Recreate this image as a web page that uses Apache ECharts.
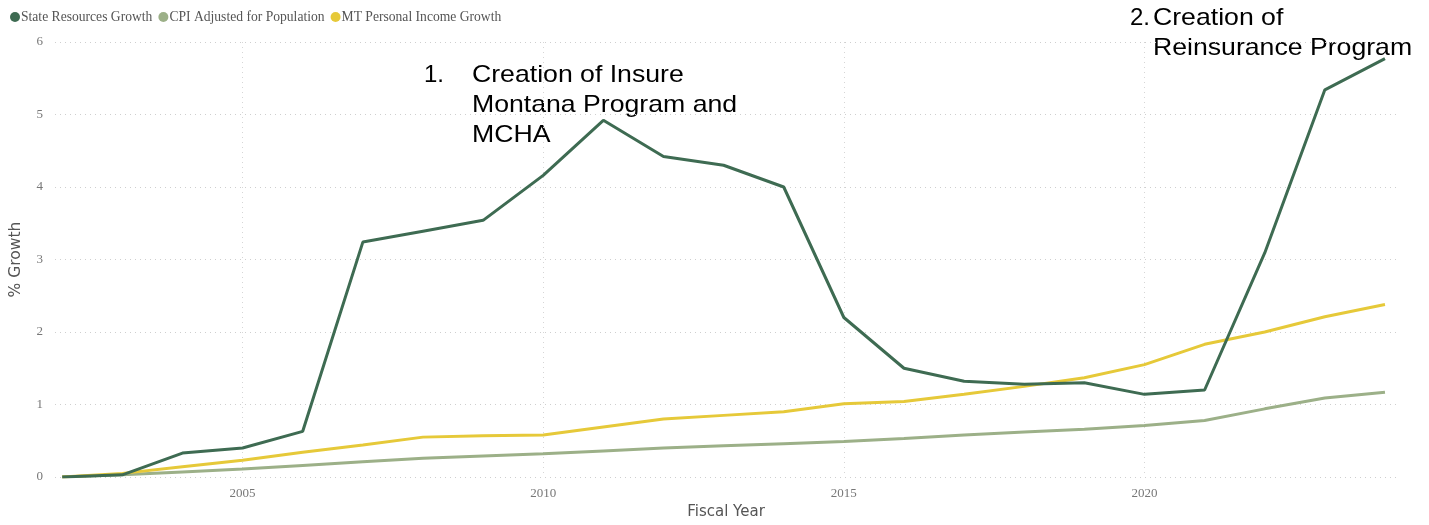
<html>
<head>
    <meta http-equiv="Content-Type" content="text/html; charset=utf-8" />
    <title>State Resources Growth</title>
    <script src="https://cdn.jsdelivr.net/npm/echarts@6/dist/echarts.min.js"></script>
    <style>html,body{margin:0;padding:0;background:#fff;}</style>
</head>
<body>
    <div id="main" style="width:1429px;height:525px"></div>

    <script type="text/javascript">
        var years = [2002, 2003, 2004, 2005, 2006, 2007, 2008, 2009, 2010, 2011, 2012,
                     2013, 2014, 2015, 2016, 2017, 2018, 2019, 2020, 2021, 2022, 2023, 2024];
        var stateResources = [0, 0.03, 0.33, 0.40, 0.63, 3.24, 3.39, 3.54, 4.16, 4.92, 4.42,
                              4.30, 4.00, 2.20, 1.50, 1.32, 1.28, 1.30, 1.14, 1.20, 3.09, 5.34, 5.77];
        var cpiAdjusted = [0, 0.03, 0.07, 0.11, 0.16, 0.21, 0.26, 0.29, 0.32, 0.36, 0.40,
                           0.43, 0.46, 0.49, 0.53, 0.58, 0.62, 0.66, 0.71, 0.78, 0.94, 1.09, 1.17];
        var personalIncome = [0, 0.05, 0.14, 0.23, 0.34, 0.44, 0.55, 0.57, 0.58, 0.69, 0.80,
                              0.85, 0.90, 1.01, 1.04, 1.14, 1.25, 1.37, 1.55, 1.83, 2.00, 2.21, 2.38];
        var yearTicks = [2005, 2010, 2015, 2020];

        function pairs(vals) {
            return years.map(function (y, i) {
                return [y, vals[i]];
            });
        }

        var serif = 'Liberation Serif';
        var noteFont = '24px Liberation Sans';

        var option = {
            backgroundColor: '#fff',
            animation: false,
            color: ['#3e6b52', '#9cb088', '#e6c939'],
            legend: {
                left: 5,
                top: 5,
                icon: 'circle',
                itemWidth: 10,
                itemHeight: 10,
                itemGap: 6,
                textStyle: { fontFamily: serif, fontSize: 13.6, color: '#555', padding: [0, 0, 0, -4] },
                data: ['State Resources Growth', 'CPI Adjusted for Population', 'MT Personal Income Growth']
            },
            grid: {
                left: 55,
                right: 32,
                top: 42,
                bottom: 45
            },
            xAxis: {
                type: 'value',
                min: 2001.88,
                max: 2024.2,
                name: 'Fiscal Year',
                nameLocation: 'middle',
                nameGap: 28,
                nameTextStyle: { fontFamily: 'DejaVu Sans', fontSize: 15, color: '#555' },
                axisLine: { show: false },
                axisTick: { show: false, customValues: yearTicks },
                axisLabel: {
                    customValues: yearTicks,
                    formatter: function (v) { return String(v); },
                    fontFamily: serif,
                    fontSize: 13,
                    color: '#777',
                    margin: 10
                },
                splitLine: {
                    show: true,
                    lineStyle: { color: '#d6d6d6', type: [1, 4], width: 1 }
                }
            },
            yAxis: {
                type: 'value',
                min: 0,
                max: 6,
                interval: 1,
                name: '% Growth',
                nameLocation: 'middle',
                nameGap: 31,
                nameTextStyle: { fontFamily: 'DejaVu Sans', fontSize: 15.5, color: '#555' },
                axisLine: { show: false },
                axisTick: { show: false },
                axisLabel: { fontFamily: serif, fontSize: 13, color: '#777', margin: 12 },
                splitLine: {
                    lineStyle: { color: '#cfcfcf', type: [1, 4], width: 1 }
                }
            },
            graphic: [
                { type: 'text', left: 424, top: 60, style: { text: '1.', font: noteFont, fill: '#000', lineHeight: 30 } },
                { type: 'text', x: 472, y: 60, scaleX: 1.11, style: { text: 'Creation of Insure\nMontana Program and\nMCHA', font: noteFont, fill: '#000', lineHeight: 30 } },
                { type: 'text', left: 1130, top: 3, style: { text: '2.', font: noteFont, fill: '#000', lineHeight: 30 } },
                { type: 'text', x: 1153, y: 3, scaleX: 1.11, style: { text: 'Creation of\nReinsurance Program', font: noteFont, fill: '#000', lineHeight: 30 } }
            ],
            series: [
                {
                    name: 'State Resources Growth',
                    type: 'line',
                    showSymbol: false,
                    z: 4,
                    lineStyle: { width: 3 },
                    data: pairs(stateResources)
                },
                {
                    name: 'CPI Adjusted for Population',
                    type: 'line',
                    showSymbol: false,
                    z: 2,
                    lineStyle: { width: 3 },
                    data: pairs(cpiAdjusted)
                },
                {
                    name: 'MT Personal Income Growth',
                    type: 'line',
                    showSymbol: false,
                    z: 3,
                    lineStyle: { width: 3 },
                    data: pairs(personalIncome)
                }
            ]
        };

        var myChart = echarts.init(document.getElementById('main'));
        myChart.setOption(option);
    </script>
</body>
</html>
